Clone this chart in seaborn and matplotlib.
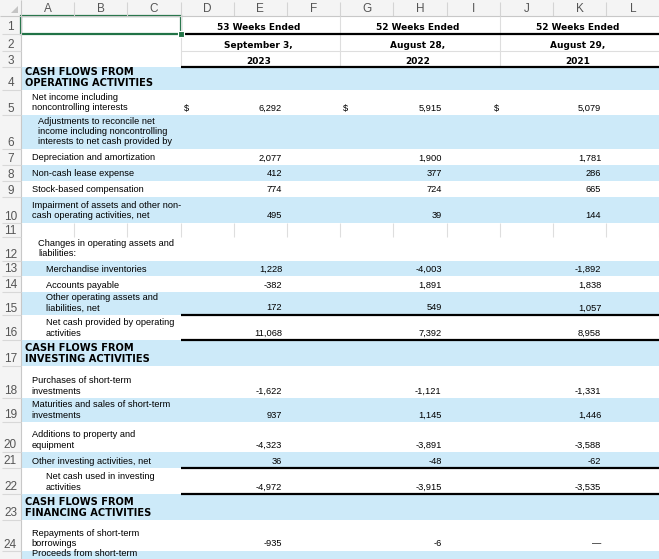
import numpy as np
import matplotlib
matplotlib.use("Agg")
import matplotlib.pyplot as plt
from matplotlib.patches import Rectangle
import seaborn as sns

sns.set_theme(style="white")
plt.rcParams['font.family'] = ['Liberation Sans', 'DejaVu Sans']

# ---- sheet contents ----
col_letters = ["A", "B", "C", "D", "E", "F", "G", "H", "I", "J", "K", "L"]
period_weeks = ["53 Weeks Ended", "52 Weeks Ended", "52 Weeks Ended"]
period_dates = ["September 3,", "August 28,", "August 29,"]
period_years = ["2023", "2022", "2021"]

row_labels = [
    "", "", "",
    "CASH FLOWS FROM\nOPERATING ACTIVITIES",
    "Net income including\nnoncontrolling interests",
    "Adjustments to reconcile net\nincome including noncontrolling\ninterests to net cash provided by",
    "Depreciation and amortization",
    "Non-cash lease expense",
    "Stock-based compensation",
    "Impairment of assets and other non-\ncash operating activities, net",
    "",
    "Changes in operating assets and\nliabilities:",
    "Merchandise inventories",
    "Accounts payable",
    "Other operating assets and\nliabilities, net",
    "Net cash provided by operating\nactivities",
    "CASH FLOWS FROM\nINVESTING ACTIVITIES",
    "Purchases of short-term\ninvestments",
    "Maturities and sales of short-term\ninvestments",
    "Additions to property and\nequipment",
    "Other investing activities, net",
    "Net cash used in investing\nactivities",
    "CASH FLOWS FROM\nFINANCING ACTIVITIES",
    "Repayments of short-term\nborrowings",
    "Proceeds from short-term\nborrowings",
]
fy2023 = [None, None, None, None, 6292, None, 2077, 412, 774, 495, None, None,
          1228, -382, 172, 11068, None, -1622, 937, -4323, 36, -4972, None, -935, None]
fy2022 = [None, None, None, None, 5915, None, 1900, 377, 724, 39, None, None,
          -4003, 1891, 549, 7392, None, -1121, 1145, -3891, -48, -3915, None, -6, None]
fy2021 = [None, None, None, None, 5079, None, 1781, 286, 665, 144, None, None,
          -1892, 1838, 1057, 8958, None, -1331, 1446, -3588, -62, -3535, None, 0, None]
section_rows = [4, 17, 23]
dollar_rows = [5]

# ---- layout (pixels) ----
X0, COL_W, HEAD_H = 21, 53.2, 16
row_heights = [18, 17, 16, 23, 25, 34, 16, 16, 16, 26, 14, 24, 15, 16, 23, 25,
               26, 32, 24, 30, 16, 26, 26, 31, 20]
label_indent = [0, 0, 0, 4, 10.5, 17, 10.5, 10.5, 10.5, 10.5, 0, 17, 24.5, 24.5,
                24.5, 24.5, 4, 10.5, 10.5, 10.5, 10.5, 24.5, 4, 10.5, 10.5]
band_rows = [4, 6, 8, 10, 13, 15, 17, 19, 21, 23, 25]
rule_rows = [1, 3, 15, 16, 21, 22]
dollar_x = [186, 345, 496]

BLUE = "#cdeaf9"
GRID = "#dedede"
HEAD_BG = "#f4f4f4"
GREEN = "#217346"

col_edges = X0 + COL_W * np.arange(len(col_letters) + 1)
row_edges = HEAD_H + np.concatenate([[0], np.cumsum(row_heights)])
tops, bottoms = row_edges[:-1], row_edges[1:]
heights = np.array(row_heights)

fig = plt.figure(figsize=(6.59, 5.59), dpi=100)
ax = fig.add_axes([0, 0, 1, 1])
ax.set_xlim(0, 659)
ax.set_ylim(559, 0)
ax.axis("off")

# banded fill
band = np.array(band_rows) - 1
ax.barh(tops[band], width=col_edges[-1] - X0, left=X0, height=heights[band],
        align="edge", color=BLUE, lw=0)

# headers
ax.axhspan(0, HEAD_H, color=HEAD_BG, lw=0)
ax.axvspan(0, X0, color=HEAD_BG, lw=0)
ax.fill([X0 - 3, X0 - 3, X0 - 10], [HEAD_H - 10, HEAD_H - 3, HEAD_H - 3], color="#c4c4c4", lw=0)
ax.vlines(col_edges[1:-1], 2, HEAD_H, color="#d4d4d4", lw=0.8)
ax.hlines(HEAD_H, 0, 659, color="#c8c8c8", lw=0.8)
ax.vlines(X0, 0, 559, color="#c8c8c8", lw=0.8)
ax.hlines(bottoms, 2, X0, color="#d8d8d8", lw=0.8)
for i, c in enumerate(col_letters):
    ax.text((col_edges[i] + col_edges[i + 1]) / 2, 12, c, ha="center", va="baseline",
            fontsize=8.5, color="#555555")
for r in range(len(row_heights) - 1):
    ax.text(X0 / 2, bottoms[r] - 3.5, str(r + 1), ha="center", va="baseline",
            fontsize=8.5, color="#555555")

# light gridlines (empty row 11 and header block)
r11 = 10
ax.vlines(col_edges[1:], tops[r11], bottoms[r11], color=GRID, lw=0.8)
ax.vlines(col_edges[[3, 6, 9]], tops[0], bottoms[2], color=GRID, lw=0.8)
ax.hlines(bottoms[1], col_edges[3], col_edges[-1], color=GRID, lw=0.8)

# period header text
for p in range(3):
    cx = (col_edges[3 + 3 * p] + col_edges[6 + 3 * p]) / 2 - 2
    for r, txt in enumerate([period_weeks[p], period_dates[p], period_years[p]]):
        ax.text(cx, bottoms[r] - 3.5, txt, ha="center", va="baseline",
                fontsize=6.5, fontweight="bold", family="DejaVu Sans", color="black")

# thick rules
ax.hlines(bottoms[np.array(rule_rows) - 1], col_edges[3], col_edges[-1], color="black", lw=1.6)

# row labels
for r, label in enumerate(row_labels):
    if not label:
        continue
    lines = label.split("\n")[::-1]
    bold = (r + 1) in section_rows
    pitch = 11.3 if bold else 10.4
    for k, line in enumerate(lines):
        if bold:
            ax.text(X0 + label_indent[r], bottoms[r] - 3.5 - k * pitch, line, va="baseline",
                    fontsize=7.1, fontweight="bold", family="DejaVu Sans", color="black")
        else:
            ax.text(X0 + label_indent[r], bottoms[r] - 4.5 - k * pitch, line, va="baseline",
                    fontsize=6.7, color="black")


def fmt(v):
    return "\u2014" if v == 0 else f"{v:,}"


for p, series in enumerate([fy2023, fy2022, fy2021]):
    right = col_edges[5 + 3 * p] - 5
    for r, v in enumerate(series):
        if v is None:
            continue
        ax.text(right, bottoms[r] - 4.5, fmt(v), ha="right", va="baseline",
                fontsize=6.7, color="black")
        if (r + 1) in dollar_rows:
            ax.text(dollar_x[p], bottoms[r] - 4.5, "$", ha="center", va="baseline",
                    fontsize=6.7, color="black")

# selected merged cell A1:C1
ax.add_patch(Rectangle((X0, tops[0]), col_edges[3] - X0, heights[0], fill=False,
                       edgecolor=GREEN, lw=1.6))
ax.plot([col_edges[3]], [bottoms[0]], marker="s", ms=4, color=GREEN,
        markeredgecolor="white", markeredgewidth=0.8)

fig.savefig("out.png", dpi=100)
